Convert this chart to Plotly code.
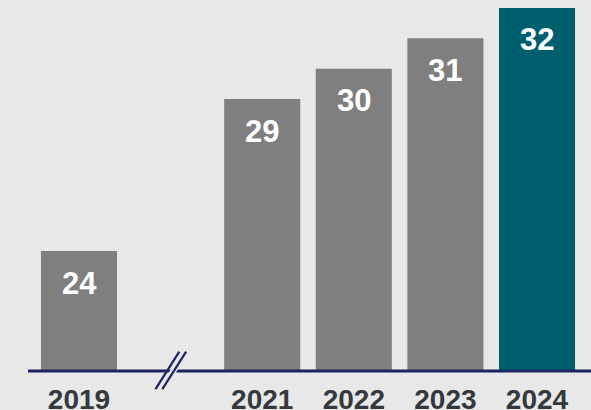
import plotly.graph_objects as go

years = [2019, 2021, 2022, 2023, 2024]
values = [24, 29, 30, 31, 32]
tick_labels = ["2019", "2021", "2022", "2023", "2024"]
break_year = 2020

BG = "#e8e8e8"
GRAY = "#7f7f7f"
TEAL = "#005f6f"
NAVY = "#1c2461"
FONT = "Liberation Sans, Arial, sans-serif"

colors = [TEAL if y == max(years) else GRAY for y in years]

fig = go.Figure(go.Bar(
    x=years, y=values, width=0.83,
    marker=dict(color=colors, line=dict(width=0)),
    hoverinfo="skip",
))

for x, v in zip(years, values):
    fig.add_annotation(x=x, y=v, text=f"<b>{v}</b>", showarrow=False,
                       yanchor="middle", yshift=-32,
                       font=dict(family=FONT, size=31, color="white"))

# baseline axis line
fig.add_shape(type="line", xref="paper", yref="paper", x0=28/591, x1=1, y0=0, y1=0,
              line=dict(color=NAVY, width=3), layer="above")
# axis break mark at the missing year
fig.add_shape(type="line", xref="x", yref="paper",
              x0=break_year - 0.095, x1=break_year + 0.165, y0=-0.048, y1=0.052,
              line=dict(color=BG, width=6), layer="above")
for off in (-0.035, 0.04):
    fig.add_shape(type="line", xref="x", yref="paper",
                  x0=break_year - 0.13 + off, x1=break_year + 0.13 + off, y0=-0.049, y1=0.052,
                  line=dict(color=NAVY, width=2.2), layer="above")

fig.update_layout(
    width=591, height=410,
    margin=dict(l=0, r=0, t=0, b=39, autoexpand=False),
    paper_bgcolor=BG, plot_bgcolor=BG,
    showlegend=False,
    xaxis=dict(range=[2018.1376, 2024.5895], tickvals=years, ticktext=tick_labels,
               showgrid=False, zeroline=False, showline=False, ticks="",
               automargin=False,
               tickfont=dict(family=FONT, size=28, color="#33393d", weight="bold"),
               ticklabelstandoff=9),
    yaxis=dict(range=[20.05, 32.263], visible=False, showgrid=False, zeroline=False,
               automargin=False),
)

fig.write_html("out.html", config={"displayModeBar": False, "staticPlot": True},
               post_script="document.body.style.margin='0';document.body.style.overflow='hidden';")
